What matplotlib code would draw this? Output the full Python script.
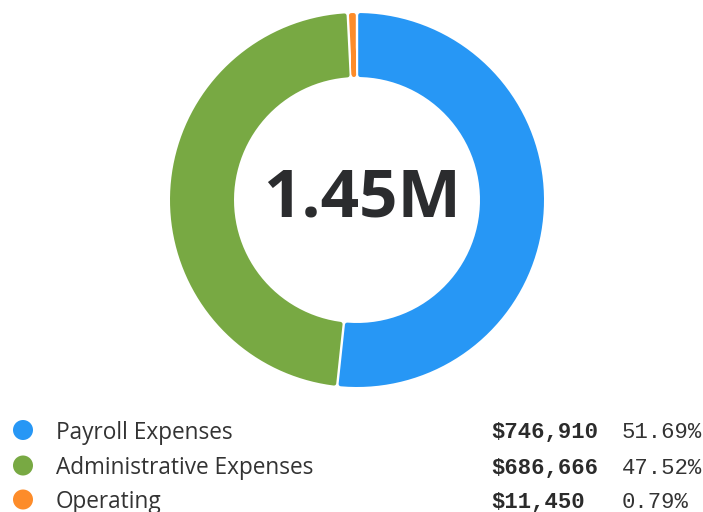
import matplotlib.pyplot as plt
from matplotlib.patches import Polygon, Circle
import numpy as np

categories = ["Payroll Expenses", "Administrative Expenses", "Operating"]
amounts = [746910, 686666, 11450]
colors = ["#2797F5", "#78A943", "#FD8C2A"]
center_label = "1.45M"

W, H = 703, 512
cx, cy = 357, 200
r_out, r_in = 187, 123
half_gap = 1.2   # px on each side of a slice boundary
corner = 2.2     # px radius of the rounded corners


def slice_points(a1, a2):
    """Annular sector between clockwise-from-top angles a1..a2 (radians),
    pulled in by a constant pixel gap so the rounded stroke fits."""
    h = half_gap + corner
    ro, ri = r_out - corner, r_in + corner
    span = a2 - a1
    pts = []
    # outer arc, then down the trailing edge, inner arc back, up the leading edge
    def off(r):
        return min(np.arcsin(h / r), span / 2 - 1e-4)
    for t in np.linspace(a1 + off(ro), a2 - off(ro), 80):
        pts.append((cx + ro * np.sin(t), cy - ro * np.cos(t)))
    for r in np.linspace(ro, ri, 20):
        t = a2 - off(r)
        pts.append((cx + r * np.sin(t), cy - r * np.cos(t)))
    for t in np.linspace(a2 - off(ri), a1 + off(ri), 60):
        pts.append((cx + ri * np.sin(t), cy - ri * np.cos(t)))
    for r in np.linspace(ri, ro, 20):
        t = a1 + off(r)
        pts.append((cx + r * np.sin(t), cy - r * np.cos(t)))
    return pts


fig = plt.figure(figsize=(W / 100, H / 100), dpi=100)
ax = fig.add_axes([0, 0, 1, 1])
ax.set_xlim(0, W)
ax.set_ylim(H, 0)
ax.set_aspect("equal")
ax.axis("off")

total = sum(amounts)
fracs = [a / total for a in amounts]
start = 0.0
lw = 2 * corner * 72 / 100
for frac, col in zip(fracs, colors):
    end = start + frac * 2 * np.pi
    ax.add_patch(Polygon(slice_points(start, end), closed=True, facecolor=col,
                         edgecolor=col, linewidth=lw, joinstyle="round"))
    start = end

ax.text(cx + 5, cy - 1, center_label, ha="center", va="center",
        fontsize=48.5, fontweight="bold", family="Open Sans", color="#2b2c2e")

# legend rows
row_y = [430, 465.5, 499.5]
for y, name, amt, frac, col in zip(row_y, categories, amounts, fracs, colors):
    ax.add_patch(Circle((23, y), 10, facecolor=col, edgecolor="none"))
    ax.text(56, y, name, ha="left", va="center_baseline", fontsize=16.3,
            family="Open Sans", color="#333333")
    ax.text(491, y, f"${amt:,}", ha="left", va="center_baseline", fontsize=16,
            family="Liberation Mono", fontweight="bold", color="#2b2b2b")
    ax.text(622, y, f"{frac * 100:.2f}%", ha="left", va="center_baseline",
            fontsize=16, family="Liberation Mono", color="#333333")

fig.savefig("out.png", dpi=100)
